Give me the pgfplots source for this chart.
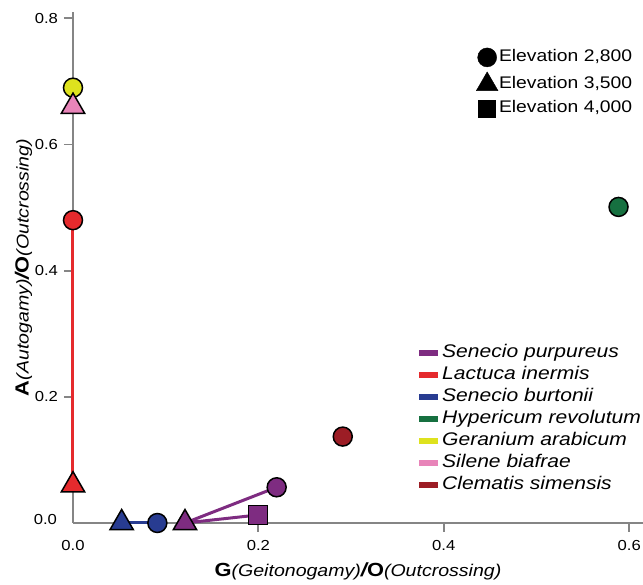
\documentclass[border=0pt]{standalone}
\usepackage{fontspec}
\setmainfont{Liberation Sans}[FakeStretch=1.15]
\usepackage{pgfplots}
\pgfplotsset{compat=1.18}
\definecolor{purp}{HTML}{7E2C81}
\definecolor{lred}{HTML}{E52A2D}
\definecolor{lblue}{HTML}{283C91}
\definecolor{lgreen}{HTML}{167040}
\definecolor{lyellow}{HTML}{DEE21E}
\definecolor{lpink}{HTML}{E884B9}
\definecolor{dred}{HTML}{9C1D25}
\definecolor{axgray}{HTML}{858585}
\newcommand{\lb}[1]{{\fontsize{19}{22}\selectfont\bfseries #1}}
\newcommand{\lbi}[1]{{\fontsize{19}{22}\selectfont\bfseries\itshape #1}}
\newcommand{\li}[1]{{\fontsize{17}{20}\selectfont\itshape #1}}
\begin{document}
\begin{tikzpicture}
\begin{axis}[
  name=main,
  scale only axis, width=570pt, height=511pt,
  xmin=0, xmax=0.6149, ymin=0, ymax=0.81,
  axis x line=bottom, axis y line=left,
  axis line style={-, axgray, line width=1.8pt},
  xtick={0.2,0.4,0.6}, xticklabels={0.2,0.4,0.6},
  ytick={0.2,0.4,0.6,0.8}, yticklabels={0.2,0.4,0.6,0.8},
  extra x ticks={0}, extra x tick labels={0.0},
  extra y ticks={0}, extra y tick labels={0.0},
  extra tick style={tick style={draw=none}},
  extra y tick style={yticklabel style={yshift=3pt, xshift=-1pt}},
  tick style={axgray, line width=1.8pt},
  tick align=outside, major tick length=9pt,
  /pgf/number format/assume math mode=true,
  ticklabel style={font=\fontsize{14.5}{17}\selectfont},
  xticklabel style={yshift=-5pt},
  yticklabel style={xshift=-2.5pt},
  xlabel={\lb{G}\li{(Geitonogamy)}\lbi{/}\lb{O}\li{(Outcrossing)}},
  ylabel={\lb{A}\li{(Autogamy)}\lbi{/}\lb{O}\li{(Outcrossing)}},
  xlabel style={at={(axis description cs:0.5,-0.095)}, anchor=center},
  ylabel style={at={(axis description cs:-0.087,0.5)}, anchor=center},
  clip=false,
  legend image code/.code={\draw[#1, line width=6pt] (0pt,0pt) -- (19pt,0pt);},
  legend cell align=left,
  legend style={draw=none, fill=none, at={(axis description cs:0.5965,0.3548)}, anchor=north west,
    font=\itshape\fontsize{18.3}{20}\selectfont, row sep=3pt,
    nodes={inner sep=1pt, text depth=4pt, text height=13pt}},
  mk/.style={mark options={draw=black, line width=1.5pt, solid}},
]
% connecting lines
\addplot[lred, line width=3pt, forget plot] coordinates {(0,0.480) (0,0.060)};
\addplot[lblue, line width=3pt, forget plot] coordinates {(0.0525,0) (0.091,0)};
\addplot[purp, line width=3pt, forget plot] coordinates {(0.2197,0.0566) (0.1208,0) (0.1996,0.0127)};
% circles (elevation 2,800)
\addplot[only marks, mark=*, mark size=9.5pt, fill=lyellow, mk, forget plot] coordinates {(0,0.690)};
\addplot[only marks, mark=*, mark size=9.5pt, fill=lred, mk, forget plot] coordinates {(0,0.480)};
\addplot[only marks, mark=*, mark size=9.5pt, fill=lgreen, mk, forget plot] coordinates {(0.5885,0.501)};
\addplot[only marks, mark=*, mark size=9.5pt, fill=dred, mk, forget plot] coordinates {(0.291,0.137)};
\addplot[only marks, mark=*, mark size=9.5pt, fill=purp, mk, forget plot] coordinates {(0.2197,0.0566)};
\addplot[only marks, mark=*, mark size=9.5pt, fill=lblue, mk, forget plot] coordinates {(0.091,0)};
% triangles (elevation 3,500)
\addplot[only marks, mark=triangle*, mark size=13.5pt, fill=lpink, mk, forget plot] coordinates {(0,0.660)};
\addplot[only marks, mark=triangle*, mark size=13.5pt, fill=lred, mk, forget plot] coordinates {(0,0.060)};
\addplot[only marks, mark=triangle*, mark size=13.5pt, fill=lblue, mk, forget plot] coordinates {(0.0525,0)};
\addplot[only marks, mark=triangle*, mark size=13.5pt, fill=purp, mk, forget plot] coordinates {(0.1208,0)};
% squares (elevation 4,000)
\addplot[only marks, mark=square*, mark size=9.5pt, fill=purp, mk, forget plot] coordinates {(0.1996,0.0127)};
% species legend
\addlegendimage{purp}\addlegendentry{Senecio purpureus}
\addlegendimage{lred}\addlegendentry{Lactuca inermis}
\addlegendimage{lblue}\addlegendentry{Senecio burtonii}
\addlegendimage{lgreen}\addlegendentry{Hypericum revolutum}
\addlegendimage{lyellow}\addlegendentry{Geranium arabicum}
\addlegendimage{lpink}\addlegendentry{Silene biafrae}
\addlegendimage{dred}\addlegendentry{Clematis simensis}
\end{axis}
\begin{axis}[
  scale only axis, width=570pt, height=511pt,
  xmin=0, xmax=0.6149, ymin=0, ymax=0.81,
  hide axis,
  legend cell align=left,
  legend style={draw=none, fill=none, at={(axis description cs:0.702,0.934)}, anchor=north west,
    font=\fontsize{16.8}{20}\selectfont, row sep=5pt,
    nodes={inner sep=1pt, text depth=4pt, text height=13pt}},
]
\addlegendimage{only marks, mark=*, black, mark size=9.5pt}\addlegendentry{Elevation 2,800}
\addlegendimage{only marks, mark=triangle*, black, mark size=12.5pt}\addlegendentry{Elevation 3,500}
\addlegendimage{only marks, mark=square*, black, mark size=8.5pt}\addlegendentry{Elevation 4,000}
\end{axis}
\pgfresetboundingbox
\path ([xshift=-73pt,yshift=-62pt]main.south west) rectangle ([yshift=12pt]main.north east);
\end{tikzpicture}
\end{document}
